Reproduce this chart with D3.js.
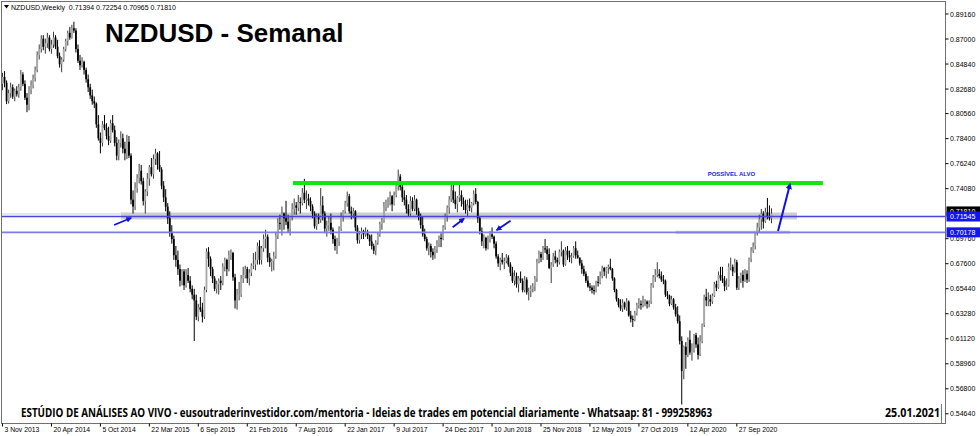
<!DOCTYPE html>
<html><head><meta charset="utf-8">
<script src="https://cdn.jsdelivr.net/npm/d3@7"></script>
<style>html,body{margin:0;padding:0;background:#fff;overflow:hidden}</style>
</head><body><svg id="c" width="980" height="436" xmlns="http://www.w3.org/2000/svg"></svg>
<script>
// ---- DATA (weekly NZDUSD candles, [open, high, low, close]) ----
const weeks2013 = [
[.8300,.8395,.8245,.8360],[.8360,.8410,.8270,.8310],[.8310,.8330,.8125,.8150],[.8150,.8250,.8130,.8220],
[.8220,.8310,.8180,.8270],[.8270,.8295,.8170,.8190],[.8190,.8260,.8150,.8240],[.8240,.8280,.8190,.8210],
[.8210,.8300,.8180,.8270]];
const weeks2014 = [
[.8270,.8420,.8240,.8380],[.8380,.8400,.8280,.8300],[.8300,.8330,.8160,.8180],[.8180,.8220,.8055,.8120],
[.8120,.8280,.8070,.8250],[.8250,.8330,.8210,.8290],[.8290,.8380,.8260,.8350],[.8350,.8450,.8320,.8420],
[.8420,.8580,.8400,.8550],[.8550,.8640,.8510,.8600],[.8600,.8720,.8570,.8690],[.8690,.8720,.8590,.8620],
[.8620,.8690,.8560,.8650],[.8650,.8740,.8610,.8700],[.8700,.8720,.8580,.8600],[.8600,.8680,.8560,.8640],
[.8640,.8750,.8610,.8700],[.8700,.8720,.8600,.8620],[.8620,.8680,.8520,.8540],[.8540,.8570,.8440,.8470],
[.8470,.8530,.8400,.8510],[.8510,.8620,.8490,.8600],[.8600,.8690,.8580,.8670],[.8670,.8760,.8630,.8740],
[.8740,.8790,.8680,.8700],[.8700,.8810,.8690,.8780],[.8780,.8836,.8740,.8760],[.8760,.8780,.8570,.8600],
[.8600,.8640,.8480,.8500],[.8500,.8550,.8420,.8460],[.8460,.8530,.8440,.8490],[.8490,.8500,.8380,.8420],
[.8420,.8440,.8310,.8340],[.8340,.8380,.8230,.8270],[.8270,.8300,.8170,.8200],[.8200,.8250,.8120,.8150],
[.8150,.8190,.8090,.8130],[.8130,.8140,.7920,.7950],[.7950,.8030,.7810,.7830],[.7830,.7880,.7700,.7790],
[.7790,.7980,.7760,.7950],[.7950,.8030,.7900,.7920],[.7920,.7960,.7820,.7850],[.7850,.7930,.7770,.7810],
[.7810,.7990,.7790,.7960],[.7960,.8030,.7880,.7900],[.7900,.7940,.7760,.7790],[.7790,.7840,.7640,.7680],
[.7680,.7820,.7640,.7790],[.7790,.7890,.7750,.7830],[.7830,.7870,.7700,.7740],[.7740,.7800,.7640,.7700]];
const weeks2015 = [
[.7700,.7860,.7650,.7800],[.7800,.7850,.7660,.7680],[.7680,.7700,.7260,.7300],[.7300,.7380,.7180,.7240],
[.7240,.7450,.7210,.7400],[.7400,.7520,.7360,.7490],[.7490,.7610,.7440,.7550],[.7550,.7600,.7430,.7460],
[.7460,.7490,.7250,.7290],[.7290,.7390,.7180,.7370],[.7370,.7530,.7330,.7480],[.7480,.7600,.7420,.7580],
[.7580,.7660,.7500,.7520],[.7520,.7690,.7480,.7650],[.7650,.7740,.7600,.7700],[.7700,.7710,.7560,.7600],
[.7600,.7720,.7540,.7560],[.7560,.7580,.7390,.7420],[.7420,.7460,.7280,.7320],[.7320,.7390,.7200,.7240],
[.7240,.7270,.7090,.7140],[.7140,.7200,.6980,.7020],[.7020,.7080,.6920,.6960],[.6960,.6990,.6780,.6820],
[.6820,.6900,.6720,.6780],[.6780,.6860,.6650,.6700],[.6700,.6740,.6550,.6600],[.6600,.6700,.6560,.6680],
[.6680,.6700,.6520,.6560],[.6560,.6700,.6540,.6650],[.6650,.6710,.6580,.6600],[.6600,.6640,.6500,.6530],
[.6530,.6560,.6440,.6480],[.6480,.6530,.6080,.6430],[.6430,.6480,.6260,.6290],[.6290,.6400,.6250,.6370],
[.6370,.6460,.6330,.6350],[.6350,.6410,.6240,.6290],[.6290,.6550,.6270,.6520],[.6520,.6880,.6500,.6850],
[.6850,.6890,.6720,.6790],[.6790,.6810,.6640,.6700],[.6700,.6720,.6580,.6620],[.6620,.6640,.6510,.6530],
[.6530,.6600,.6490,.6570],[.6570,.6620,.6480,.6600],[.6600,.6640,.6520,.6580],[.6580,.6750,.6560,.6720],
[.6720,.6800,.6680,.6780],[.6780,.6790,.6640,.6700],[.6700,.6860,.6680,.6820],[.6820,.6870,.6780,.6840]];
const weeks2016 = [
[.6840,.6850,.6600,.6630],[.6630,.6660,.6360,.6430],[.6430,.6530,.6350,.6480],[.6480,.6590,.6430,.6480],
[.6480,.6650,.6460,.6620],[.6620,.6720,.6580,.6650],[.6650,.6730,.6620,.6700],[.6700,.6720,.6580,.6620],
[.6620,.6700,.6560,.6670],[.6670,.6750,.6640,.6730],[.6730,.6840,.6700,.6740],[.6740,.6850,.6690,.6780],
[.6780,.6930,.6740,.6900],[.6900,.6950,.6740,.6780],[.6780,.6900,.6740,.6880],[.6880,.7000,.6850,.6960],
[.6960,.7040,.6880,.6980],[.6980,.7000,.6760,.6800],[.6800,.6840,.6720,.6760],[.6760,.6790,.6680,.6770],
[.6770,.6850,.6690,.6810],[.6810,.7020,.6790,.6990],[.6990,.7140,.6960,.7100],[.7100,.7170,.7040,.7090],
[.7090,.7240,.6990,.7180],[.7180,.7190,.7040,.7140],[.7140,.7290,.7080,.7110],[.7110,.7170,.7020,.7050],
[.7050,.7160,.6990,.7150],[.7150,.7270,.7120,.7220],[.7220,.7310,.7170,.7250],[.7250,.7280,.7170,.7230],
[.7230,.7340,.7200,.7280],[.7280,.7320,.7180,.7270],[.7270,.7400,.7250,.7360],[.7360,.7480,.7270,.7300],
[.7300,.7380,.7220,.7310],[.7310,.7350,.7250,.7290],[.7290,.7320,.7200,.7240],[.7240,.7260,.7140,.7180],
[.7180,.7200,.7050,.7070],[.7070,.7180,.7040,.7150],[.7150,.7180,.7090,.7130],[.7130,.7400,.7100,.7250],
[.7250,.7330,.7120,.7180],[.7180,.7200,.7010,.7050],[.7050,.7120,.6980,.7080],[.7080,.7150,.7030,.7100],
[.7100,.7180,.7000,.7040],[.7040,.7060,.6920,.6960],[.6960,.6990,.6860,.6900],[.6900,.6970,.6830,.6940]];
const weeks2017 = [
[.6940,.7070,.6900,.7050],[.7050,.7190,.7030,.7150],[.7150,.7210,.7110,.7200],[.7200,.7290,.7180,.7270],
[.7270,.7370,.7240,.7330],[.7330,.7350,.7180,.7200],[.7200,.7240,.7130,.7180],[.7180,.7230,.7140,.7200],
[.7200,.7210,.7030,.7060],[.7060,.7080,.6920,.6950],[.6950,.7030,.6920,.7000],[.7000,.7060,.6960,.7030],
[.7030,.7040,.6960,.7000],[.7000,.7060,.6980,.7010],[.7010,.7040,.6960,.6990],[.6990,.7000,.6900,.6940],
[.6940,.7000,.6870,.6900],[.6900,.6920,.6830,.6860],[.6860,.6950,.6820,.6930],[.6930,.7020,.6910,.7000],
[.7000,.7110,.6980,.7090],[.7090,.7140,.7040,.7110],[.7110,.7280,.7100,.7240],[.7240,.7300,.7200,.7270],
[.7270,.7320,.7230,.7280],[.7280,.7370,.7250,.7330],[.7330,.7340,.7200,.7260],[.7260,.7370,.7250,.7340],
[.7340,.7460,.7320,.7420],[.7420,.7560,.7380,.7500],[.7500,.7520,.7380,.7410],[.7410,.7440,.7280,.7320],
[.7320,.7380,.7250,.7300],[.7300,.7340,.7180,.7220],[.7220,.7260,.7150,.7180],[.7180,.7330,.7160,.7290],
[.7290,.7320,.7200,.7220],[.7220,.7340,.7200,.7300],[.7300,.7310,.7170,.7200],[.7200,.7230,.7120,.7150],
[.7150,.7180,.7050,.7080],[.7080,.7150,.6980,.7000],[.7000,.7050,.6940,.6960],[.6960,.6980,.6860,.6880],
[.6880,.6930,.6820,.6900],[.6900,.6920,.6800,.6850],[.6850,.6880,.6780,.6820],[.6820,.6900,.6790,.6870],
[.6870,.6950,.6840,.6920],[.6920,.6990,.6890,.6970],[.6970,.7010,.6890,.6960],[.6960,.7080,.6950,.7060],
[.7060,.7180,.7040,.7160]];
const weeks2018 = [
[.7160,.7250,.7110,.7230],[.7230,.7330,.7180,.7300],[.7300,.7440,.7280,.7380],[.7380,.7430,.7270,.7300],
[.7300,.7370,.7220,.7260],[.7260,.7330,.7190,.7320],[.7320,.7440,.7280,.7340],[.7340,.7380,.7240,.7290],
[.7290,.7320,.7210,.7260],[.7260,.7300,.7180,.7210],[.7210,.7300,.7150,.7250],[.7250,.7310,.7200,.7230],
[.7230,.7280,.7190,.7270],[.7270,.7380,.7250,.7350],[.7350,.7400,.7260,.7280],[.7280,.7290,.7100,.7140],
[.7140,.7160,.7000,.7030],[.7030,.7060,.6900,.6940],[.6940,.7000,.6880,.6970],[.6970,.6980,.6860,.6880],
[.6880,.6990,.6870,.6960],[.6960,.7030,.6930,.7000],[.7000,.7060,.6960,.6980],[.6980,.6990,.6880,.6920],
[.6920,.6940,.6790,.6810],[.6810,.6830,.6720,.6750],[.6750,.6800,.6690,.6780],[.6780,.6840,.6740,.6760],
[.6760,.6800,.6700,.6770],[.6770,.6830,.6750,.6800],[.6800,.6820,.6720,.6740],[.6740,.6760,.6640,.6670],
[.6670,.6720,.6580,.6600],[.6600,.6690,.6560,.6640],[.6640,.6670,.6540,.6570],[.6570,.6640,.6500,.6620],
[.6620,.6680,.6580,.6600],[.6600,.6620,.6500,.6520],[.6520,.6640,.6500,.6610],[.6610,.6630,.6480,.6500],
[.6500,.6540,.6430,.6510],[.6510,.6560,.6460,.6530],[.6530,.6580,.6500,.6550],[.6550,.6640,.6510,.6620],
[.6620,.6790,.6590,.6760],[.6760,.6860,.6750,.6830],[.6830,.6850,.6760,.6800],[.6800,.6900,.6780,.6880],
[.6880,.6960,.6840,.6870],[.6870,.6900,.6780,.6830],[.6830,.6880,.6700,.6710],[.6710,.6760,.6580,.6740]];
const weeks2019 = [
[.6740,.6840,.6720,.6810],[.6810,.6860,.6750,.6780],[.6780,.6800,.6720,.6760],[.6760,.6870,.6740,.6850],
[.6850,.6940,.6810,.6860],[.6860,.6870,.6720,.6740],[.6740,.6890,.6730,.6860],[.6860,.6900,.6780,.6820],
[.6820,.6860,.6760,.6800],[.6800,.6840,.6750,.6810],[.6810,.6900,.6800,.6880],[.6880,.6940,.6790,.6820],
[.6820,.6860,.6790,.6800],[.6800,.6800,.6730,.6750],[.6750,.6780,.6660,.6700],[.6700,.6730,.6640,.6660],
[.6660,.6680,.6580,.6600],[.6600,.6640,.6540,.6550],[.6550,.6580,.6510,.6540],[.6540,.6560,.6490,.6520],
[.6520,.6560,.6480,.6510],[.6510,.6600,.6500,.6590],[.6590,.6640,.6550,.6580],[.6580,.6680,.6570,.6640],
[.6640,.6730,.6620,.6710],[.6710,.6720,.6640,.6680],[.6680,.6720,.6620,.6710],[.6710,.6740,.6660,.6720],
[.6720,.6790,.6690,.6700],[.6700,.6710,.6600,.6620],[.6620,.6630,.6500,.6520],[.6520,.6530,.6420,.6440],
[.6440,.6450,.6370,.6390],[.6390,.6440,.6340,.6360],[.6360,.6440,.6330,.6410],[.6410,.6420,.6350,.6370],
[.6370,.6450,.6340,.6420],[.6420,.6430,.6290,.6300],[.6300,.6340,.6240,.6270],[.6270,.6300,.6200,.6260],
[.6260,.6340,.6250,.6320],[.6320,.6410,.6300,.6390],[.6390,.6450,.6360,.6400],[.6400,.6430,.6350,.6390],
[.6390,.6470,.6370,.6410],[.6410,.6440,.6380,.6420],[.6420,.6430,.6360,.6400],[.6400,.6430,.6370,.6420],
[.6420,.6580,.6400,.6560],[.6560,.6650,.6540,.6630],[.6630,.6700,.6590,.6650],[.6650,.6760,.6630,.6660]];
const weeks2020 = [
[.6660,.6700,.6620,.6640],[.6640,.6680,.6590,.6610],[.6610,.6650,.6570,.6600],[.6600,.6610,.6460,.6480],
[.6480,.6510,.6440,.6470],[.6470,.6480,.6380,.6400],[.6400,.6470,.6390,.6440],[.6440,.6450,.6350,.6370],
[.6370,.6400,.6290,.6310],[.6310,.6380,.6230,.6250],[.6250,.6300,.6050,.6080],[.6080,.6120,.5469,.5820],
[.5820,.6040,.5750,.6030],[.6030,.6070,.5840,.5960],[.5960,.6110,.5940,.6090],[.6090,.6170,.5960,.5980],
[.5980,.6060,.5910,.6000],[.6000,.6140,.5980,.6130],[.6130,.6150,.6020,.6050],[.6050,.6110,.5920,.5960],
[.5960,.6130,.5950,.6080],[.6080,.6230,.6060,.6220],[.6220,.6480,.6200,.6460],[.6460,.6530,.6380,.6430],
[.6430,.6500,.6380,.6440],[.6440,.6480,.6380,.6420],[.6420,.6490,.6400,.6470],[.6470,.6590,.6460,.6570],
[.6570,.6600,.6510,.6540],[.6540,.6680,.6530,.6650],[.6650,.6720,.6600,.6620],[.6620,.6720,.6580,.6600],
[.6600,.6640,.6510,.6550],[.6550,.6620,.6520,.6560],[.6560,.6750,.6550,.6720],[.6720,.6800,.6690,.6720],
[.6720,.6740,.6640,.6680],[.6680,.6790,.6670,.6760],[.6760,.6780,.6520,.6540],[.6540,.6640,.6520,.6620],
[.6620,.6670,.6580,.6650],[.6650,.6690,.6540,.6600],[.6600,.6700,.6590,.6660],[.6660,.6690,.6580,.6610],
[.6610,.6800,.6590,.6790],[.6790,.6890,.6760,.6860],[.6860,.6930,.6840,.6900],[.6900,.7020,.6870,.7010],
[.7010,.7100,.6990,.7060],[.7060,.7170,.7020,.7130],[.7130,.7220,.7040,.7180],[.7180,.7200,.7050,.7110]];
const weeks2021 = [
[.7110,.7230,.7100,.7190],[.7190,.7315,.7130,.7150],[.7150,.7250,.7120,.7139],[.71394,.72254,.70965,.71810]];

// axis tick labels
const dateTickLabels = ["3 Nov 2013","20 Apr 2014","5 Oct 2014","22 Mar 2015","6 Sep 2015","21 Feb 2016",
  "7 Aug 2016","22 Jan 2017","9 Jul 2017","24 Dec 2017","10 Jun 2018","25 Nov 2018","12 May 2019",
  "27 Oct 2019","12 Apr 2020","27 Sep 2020"];
const barsPerDateTick = 24;
// 0.71920 sits under the price boxes in the reference, so it is not listed
const priceTickLabels = ["0.89160","0.87000","0.84840","0.82680","0.80560","0.78400","0.76240","0.74080",
  "0.69760","0.67600","0.65440","0.63280","0.61120","0.58960","0.56800","0.54640"];

// levels & annotations (bar index, price)
const supportLevels = [0.71545, 0.70178];
const lastPrice = 0.71810;
const targetLevel = 0.7444;
const targetBars = [142.4, 402.2];
const zoneBand = {from: 58.1, to: 389.5, top: 0.7189, bottom: 0.7129};
const arrows = [
  {x1: 54.7, y1: 0.70812, x2: 63.0, y2: 0.71416, big: false},
  {x1: 220.7, y1: 0.70613, x2: 226.2, y2: 0.71356, big: false},
  {x1: 249.1, y1: 0.71183, x2: 242.3, y2: 0.70380, big: false},
  {x1: 380.2, y1: 0.70294, x2: 386.1, y2: 0.74352, big: true}
];
const headerText = "NZDUSD,Weekly  0.71394 0.72254 0.70965 0.71810";
const titleText = "NZDUSD - Semanal";
const targetText = "POSSÍVEL ALVO";
const footerText = "ESTÚDIO DE ANÁLISES AO VIVO - eusoutraderinvestidor.com/mentoria - Ideias de trades em potencial diariamente - Whatsaap: 81 - 999258963";
const dateText = "25.01.2021";

// ---- DRAW ----
const bars = [].concat(weeks2013, weeks2014, weeks2015, weeks2016, weeks2017, weeks2018, weeks2019, weeks2020, weeks2021);
const svg = d3.select("#c");
const FONT = "'Liberation Sans', Arial, sans-serif";
const PL = 1.5, PR = 945.5, PT = 1.5, PB = 423.5;

const x = d3.scaleLinear().domain([0, bars.length - 1]).range([2.5, 771.5]);
const y = d3.scaleLinear().domain([0.5464, 0.8916]).range([412.3, 12.5]);

svg.append("rect").attr("width", 980).attr("height", 436).attr("fill", "#fff");

const defs = svg.append("defs");
defs.append("clipPath").attr("id", "plotClip").append("rect")
  .attr("x", PL).attr("y", PT).attr("width", PR - PL).attr("height", PB - PT);
defs.append("marker").attr("id", "ah").attr("viewBox", "0 0 10 10")
  .attr("refX", 8).attr("refY", 5).attr("markerWidth", 3.2).attr("markerHeight", 3.2)
  .attr("orient", "auto").append("path").attr("d", "M0,0 L10,5 L0,10 z").attr("fill", "#1010e0");

const plot = svg.append("g").attr("clip-path", "url(#plotClip)");

// zone band
plot.append("line").attr("x1", PL).attr("x2", x(zoneBand.from))
  .attr("y1", y(zoneBand.top) + 1.5).attr("y2", y(zoneBand.top) + 1.5)
  .attr("stroke", "#cfcfcf").attr("stroke-width", 1.2);
plot.append("rect").attr("x", x(zoneBand.from)).attr("width", x(zoneBand.to) - x(zoneBand.from))
  .attr("y", y(zoneBand.top)).attr("height", y(zoneBand.bottom) - y(zoneBand.top))
  .attr("fill", "#cdcdcd");
plot.append("line").attr("x1", x(330)).attr("x2", x(386))
  .attr("y1", y(supportLevels[1])).attr("y2", y(supportLevels[1]))
  .attr("stroke", "#c8c8c8").attr("stroke-width", 3);

// candles
const cg = plot.append("g");
bars.forEach((b, i) => {
  const [o, h, l, c] = b;
  const bear = c < o;
  const cx = x(i);
  cg.append("line").attr("x1", cx).attr("x2", cx).attr("y1", y(h)).attr("y2", y(l))
    .attr("stroke", bear ? "#000" : "#3a3a3a").attr("stroke-width", 1);
  const top = y(Math.max(o, c)), bot = y(Math.min(o, c));
  cg.append("rect").attr("x", cx - 0.9).attr("width", 1.8)
    .attr("y", top).attr("height", Math.max(0.8, bot - top))
    .attr("fill", bear ? "#000" : "#a9a9a9");
});

// support / resistance lines
supportLevels.forEach((p, k) => {
  plot.append("line").attr("x1", PL).attr("x2", PR).attr("y1", y(p)).attr("y2", y(p))
    .attr("stroke", k === 0 ? "#4646dc" : "#7c7cee").attr("stroke-width", k === 0 ? 1.4 : 1.6);
});

// target line
plot.append("line").attr("x1", x(targetBars[0])).attr("x2", x(targetBars[1]))
  .attr("y1", y(targetLevel)).attr("y2", y(targetLevel))
  .attr("stroke", "#11e611").attr("stroke-width", 4);

// arrows
arrows.forEach(a => {
  plot.append("line").attr("x1", x(a.x1)).attr("y1", y(a.y1)).attr("x2", x(a.x2)).attr("y2", y(a.y2))
    .attr("stroke", "#1010e0").attr("stroke-width", a.big ? 2 : 1.8)
    .attr("marker-end", "url(#ah)");
});

plot.append("text").attr("x", x(345.7)).attr("y", y(0.7500))
  .attr("font-family", FONT).attr("font-weight", "bold").attr("font-size", 6)
  .attr("fill", "#1a1ae0").text(targetText);

// header / title
svg.append("path").attr("d", "M4,5 L9,5 L6.5,8.5 z").attr("fill", "#000");
svg.append("text").attr("x", 11).attr("y", 9.5).attr("font-family", FONT).attr("font-size", 7)
  .attr("fill", "#000").attr("xml:space", "preserve").style("white-space", "pre").text(headerText);
svg.append("text").attr("x", 105).attr("y", 42).attr("font-family", FONT).attr("font-weight", "bold")
  .attr("font-size", 26).attr("fill", "#000").text(titleText);

// footer box
svg.append("rect").attr("x", PL).attr("y", 404.5).attr("width", 941 - PL).attr("height", PB - 404.5)
  .attr("fill", "#fff");
svg.append("line").attr("x1", 941.5).attr("x2", 941.5).attr("y1", 404).attr("y2", PB)
  .attr("stroke", "#777").attr("stroke-width", 1);
svg.append("text").attr("x", 21).attr("y", 417).attr("font-family", "'Open Sans', " + FONT)
  .attr("font-weight", "bold").attr("font-size", 12).attr("fill", "#000")
  .attr("textLength", 691).attr("lengthAdjust", "spacingAndGlyphs").text(footerText);
svg.append("text").attr("x", 885).attr("y", 417).attr("font-family", "'Open Sans', " + FONT)
  .attr("font-weight", "bold").attr("font-size", 12.5).attr("fill", "#000")
  .attr("textLength", 55).attr("lengthAdjust", "spacingAndGlyphs").text(dateText);

// frame
svg.append("rect").attr("x", PL).attr("y", PT).attr("width", PR - PL).attr("height", PB - PT)
  .attr("fill", "none").attr("stroke", "#707070").attr("stroke-width", 1);

// price axis
const pa = svg.append("g");
priceTickLabels.forEach(t => {
  const py = y(+t);
  pa.append("line").attr("x1", PR).attr("x2", PR + 3).attr("y1", py + 1.5).attr("y2", py + 1.5).attr("stroke", "#000");
  pa.append("text").attr("x", 950).attr("y", py + 4).attr("font-family", FONT).attr("font-size", 7)
    .attr("fill", "#000").text(t);
});
function priceBox(p, fill, lift) {
  const py = y(p) - lift;
  pa.append("rect").attr("x", PR + 1).attr("y", py - 5).attr("width", 980 - PR).attr("height", 10).attr("fill", fill);
  pa.append("text").attr("x", 950).attr("y", py + 2.6).attr("font-family", FONT).attr("font-size", 7)
    .attr("fill", "#fff").text(p.toFixed(5));
}
priceBox(lastPrice, "#000", 2);
supportLevels.forEach(p => priceBox(p, "#1414f0", 0));

// time axis
const ta = svg.append("g");
dateTickLabels.forEach((t, k) => {
  const tx = x(k * barsPerDateTick);
  ta.append("line").attr("x1", tx).attr("x2", tx).attr("y1", PB).attr("y2", PB + 3).attr("stroke", "#000");
  ta.append("text").attr("x", tx + 2).attr("y", 431.5).attr("font-family", FONT).attr("font-size", 6.8)
    .attr("fill", "#000").text(t);
});
</script>
</body></html>
